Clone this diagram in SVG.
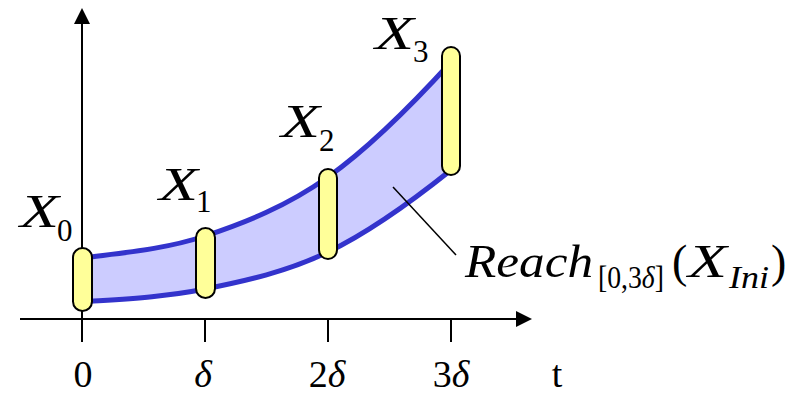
<svg xmlns="http://www.w3.org/2000/svg" width="792" height="394" viewBox="0 0 792 394">
<style>
.ax{stroke:#000;stroke-width:2;fill:none}
.cap{fill:#ffff99;stroke:#000;stroke-width:2}
.band{fill:#ccccff;stroke:#3333cc;stroke-width:5;stroke-linejoin:round}
.i{font-style:italic}
.big{font-size:46px}
.sub{font-size:31px}
.tick{font-size:38px}
</style>
<rect width="792" height="394" fill="#fff"/>
<g id="axes">
<line class="ax" x1="82" y1="342" x2="82" y2="22"/>
<polygon points="82,8 74,24 90,24" fill="#000"/>
<line class="ax" x1="20" y1="319" x2="518" y2="319"/>
<polygon points="532,319 516,311 516,327" fill="#000"/>
<line class="ax" x1="205" y1="319" x2="205" y2="342"/>
<line class="ax" x1="328" y1="319" x2="328" y2="342"/>
<line class="ax" x1="451" y1="319" x2="451" y2="342"/>
</g>
<g id="reach-band">
<path class="band" d="M82,258 C123,252.7 164,249.5 205,236 C246,222.5 287,206 328,177 C369,148 410,107 451,62 L451,170 C410,202.8 369,232.3 328,252 C287,271.7 246,280.8 205,289 C164,297.2 123,299.1 82,302 Z"/>
</g>
<g id="connectors">
<line x1="393" y1="187" x2="456" y2="255" stroke="#000" stroke-width="1.5"/>
</g>
<g font-family="Liberation Serif, DejaVu Serif, serif" fill="#000">
<g id="X0">
<rect class="cap" x="73" y="248" width="19" height="63" rx="9.5"/>
<text class="i big" x="20" y="227" textLength="39" lengthAdjust="spacingAndGlyphs">X</text>
<text class="sub" x="57" y="241">0</text>
</g>
<g id="X1">
<rect class="cap" x="196" y="228" width="19" height="70" rx="9.5"/>
<text class="i big" x="159" y="200" textLength="39" lengthAdjust="spacingAndGlyphs">X</text>
<text class="sub" x="196" y="212">1</text>
</g>
<g id="X2">
<rect class="cap" x="319" y="169" width="18" height="90" rx="9"/>
<text class="i big" x="281" y="137" textLength="39" lengthAdjust="spacingAndGlyphs">X</text>
<text class="sub" x="319" y="151">2</text>
</g>
<g id="X3">
<rect class="cap" x="442" y="47" width="18" height="128" rx="9"/>
<text class="i big" x="375" y="49" textLength="39" lengthAdjust="spacingAndGlyphs">X</text>
<text class="sub" x="413" y="62">3</text>
</g>
<g id="reach-label">
<text class="i big" x="465" y="277" textLength="128" lengthAdjust="spacingAndGlyphs">Reach</text>
<text class="sub" x="598" y="288" textLength="66" lengthAdjust="spacingAndGlyphs">[0,3<tspan class="i">δ</tspan>]</text>
<text class="big" x="672" y="277">(</text>
<text class="i big" x="688" y="277" textLength="39" lengthAdjust="spacingAndGlyphs">X</text>
<text class="i sub" x="729" y="288" textLength="40" lengthAdjust="spacingAndGlyphs">Ini</text>
<text class="big" x="771" y="277">)</text>
</g>
<g id="tick-labels">
<text class="tick" x="83" y="387" text-anchor="middle">0</text>
<text class="tick i" x="203" y="387" text-anchor="middle">δ</text>
<text class="tick" x="327" y="387" text-anchor="middle">2<tspan class="i">δ</tspan></text>
<text class="tick" x="451" y="387" text-anchor="middle">3<tspan class="i">δ</tspan></text>
<text class="tick" x="557" y="387" text-anchor="middle">t</text>
</g>
</g>
</svg>
